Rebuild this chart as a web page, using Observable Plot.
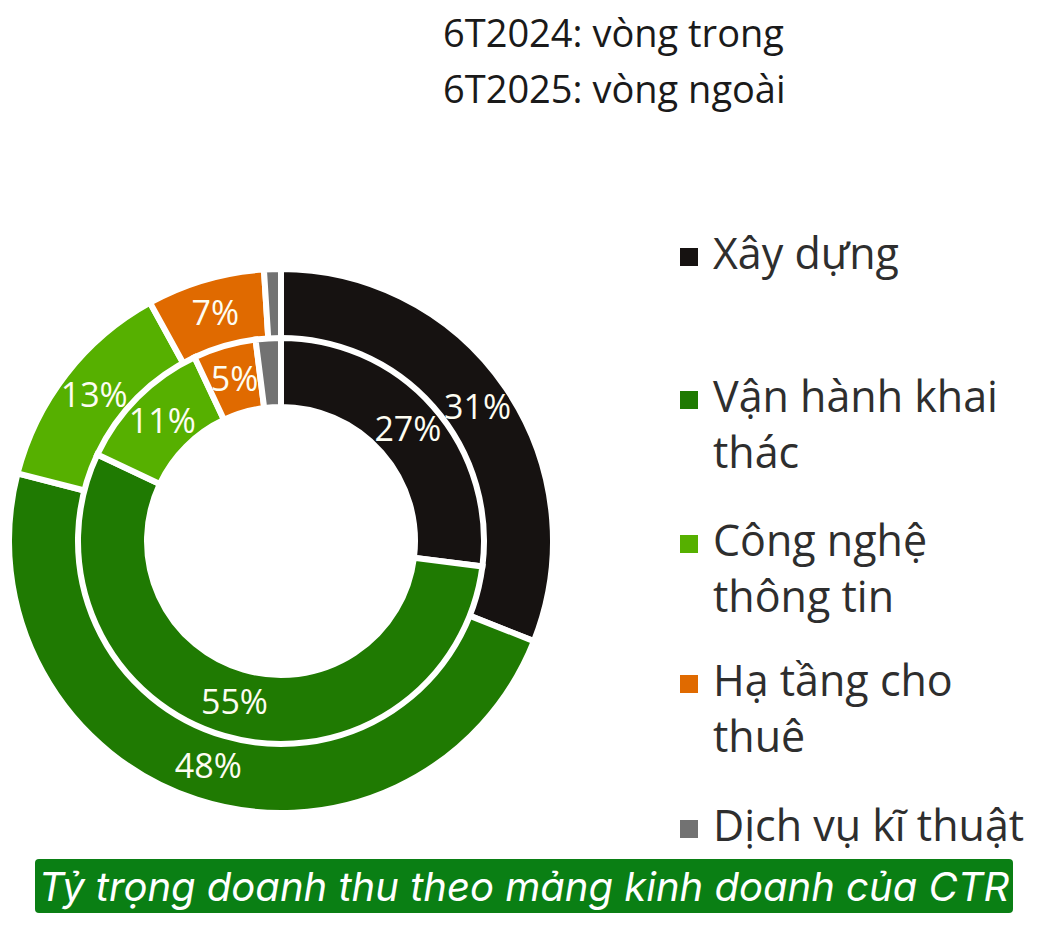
<!DOCTYPE html>
<html><head><meta charset="utf-8">
<script src="https://cdn.jsdelivr.net/npm/d3@7"></script>
<script src="https://cdn.jsdelivr.net/npm/@observablehq/plot@0.6"></script>
<style>
body{margin:0;background:#fff;}
#wrap{position:relative;width:1048px;height:928px;overflow:hidden;font-family:"Open Sans",sans-serif;}
#chart{position:absolute;left:0;top:0;}
.title{position:absolute;left:443px;top:4px;font-size:38px;line-height:56px;color:#1a1a1a;white-space:nowrap;}
.leg{position:absolute;left:713px;font-size:43px;line-height:56px;color:#2e2e2e;white-space:nowrap;}
.sw{position:absolute;left:680px;width:18px;height:18px;}
#cap{position:absolute;left:35px;top:859px;width:978px;height:54px;background:#0a7f14;border-radius:4px;color:#fff;font-family:Inter,sans-serif;font-style:italic;font-size:40px;display:flex;align-items:center;justify-content:center;white-space:nowrap;}
</style></head>
<body><div id="wrap"><div id="chart"></div>
<div class="title">6T2024: vòng trong<br>6T2025: vòng ngoài</div>
<div id="legend"></div>
<div id="cap">Tỷ trọng doanh thu theo mảng kinh doanh của CTR</div>
</div>
<script>
// ---- data ----
const categories = ["Xây dựng", "Vận hành khai thác", "Công nghệ thông tin", "Hạ tầng cho thuê", "Dịch vụ kĩ thuật"];
const legendLines = [["Xây dựng"], ["Vận hành khai", "thác"], ["Công nghệ", "thông tin"], ["Hạ tầng cho", "thuê"], ["Dịch vụ kĩ thuật"]];
const inner2024 = [27, 55, 11, 5, 2];   // 6T2024: vòng trong
const outer2025 = [31, 48, 13, 7, 1];   // 6T2025: vòng ngoài
const showLabel = [true, true, true, true, false];

// ---- styles ----
const palette = ["#161211", "#1f7a02", "#56b000", "#e06a00", "#727272"];
const legendBaselines = [270, 413, 557, 697, 842];

// ring geometry in data units (1 unit = outer radius)
const ringDefs = [
  {name: "outer", values: outer2025, r0: 202 / 270, r1: 272 / 270},
  {name: "inner", values: inner2024, r0: 134 / 270, r1: 203 / 270}
];
const rings = ringDefs.map(r => ({...r, data: categories.map((c, i) => ({category: c, value: r.values[i], labelled: showLabel[i]}))}));
const pie = d3.pie().sort(null).value(d => d.value);

const labels = rings.flatMap(ring => pie(ring.data).filter(a => a.data.labelled).map(a => {
  const m = (a.startAngle + a.endAngle) / 2, r = (ring.r0 + ring.r1) / 2;
  return {x: r * Math.sin(m), y: r * Math.cos(m), text: a.data.value + "%"};
}));

function ringsMark(index, scales) {
  const x = scales.x, y = scales.y;
  const color = scales.color || d3.scaleOrdinal(categories, palette);
  const cx = x(0), cy = y(0), k = x(1) - x(0);
  const g = d3.create("svg:g").attr("transform", `translate(${cx},${cy})`);
  for (const ring of rings) {
    const arc = d3.arc().innerRadius(ring.r0 * k).outerRadius(ring.r1 * k);
    g.append("g").selectAll("path").data(pie(ring.data)).join("path")
      .attr("d", arc)
      .attr("fill", d => color(d.data.category))
      .attr("stroke", "#fff")
      .attr("stroke-width", 6);
  }
  return g.node();
}

const chart = Plot.plot({
  width: 1048,
  height: 850,
  margin: 0,
  style: {fontFamily: "Open Sans, sans-serif", background: "transparent"},
  x: {domain: [-1, 1], range: [11, 551], axis: null},
  y: {domain: [-1, 1], range: [811, 271], axis: null},
  color: {domain: categories, range: palette},
  marks: [
    ringsMark,
    Plot.text(labels, {x: "x", y: "y", text: "text", fill: "#fdfdf2", fontSize: 34, fontFamily: "Open Sans, sans-serif"})
  ]
});
document.getElementById("chart").appendChild(chart);

// legend
const legend = document.getElementById("legend");
categories.forEach((c, i) => {
  const b = legendBaselines[i];
  const sw = document.createElement("div");
  sw.className = "sw";
  sw.style.top = (b - 22) + "px";
  sw.style.background = palette[i];
  legend.appendChild(sw);
  const t = document.createElement("div");
  t.className = "leg";
  t.style.top = (b - 44.7) + "px";
  t.innerHTML = legendLines[i].join("<br>");
  legend.appendChild(t);
});
</script>
</body></html>
